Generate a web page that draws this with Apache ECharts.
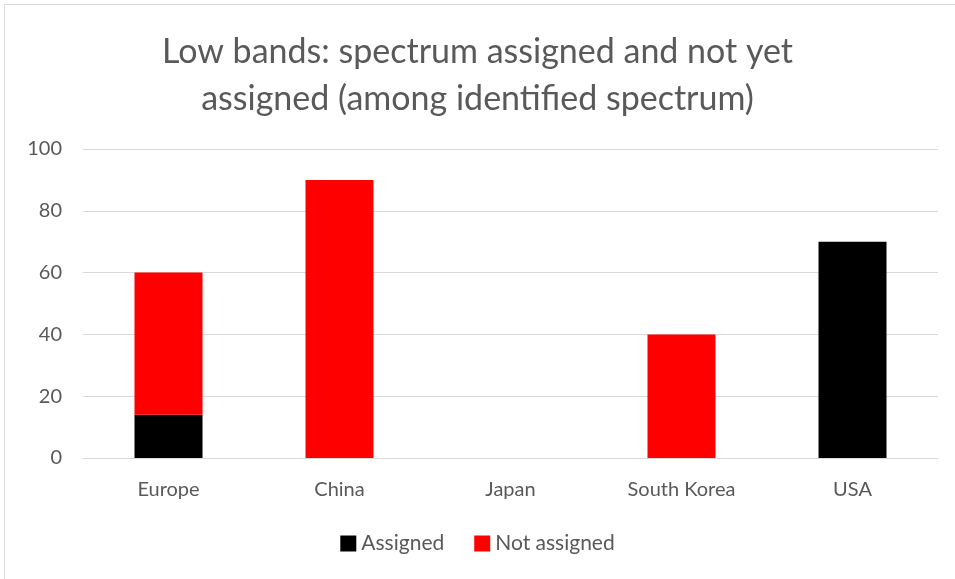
<!DOCTYPE html>
<html><head><meta charset="utf-8">
<script src="https://cdn.jsdelivr.net/npm/echarts@6/dist/echarts.min.js"></script>
<style>html,body{margin:0;padding:0;background:#fff;}#c{width:955px;height:579px;}</style>
</head><body><div id="c"></div>
<script>
const categories = ['Europe', 'China', 'Japan', 'South Korea', 'USA'];
const assigned = [14, 0, 0, 0, 70];
const notAssigned = [46, 90, 0, 40, 0];
const yTicks = [0, 20, 40, 60, 80, 100];

const chart = echarts.init(document.getElementById('c'));
const font = 'Lato, "Open Sans", sans-serif';
chart.setOption({
  animation: false,
  graphic: [{type: 'rect', shape: {x: 4.5, y: 4.5, width: 960, height: 580}, style: {fill: 'none', stroke: '#d9d9d9', lineWidth: 1}}],
  title: {
    text: 'Low bands: spectrum assigned and not yet\nassigned (among identified spectrum)',
    left: 'center', top: 24,
    textStyle: {fontFamily: font, fontWeight: 'normal', fontSize: 34, color: '#595959', lineHeight: 47}
  },
  legend: {
    bottom: 20, left: 'center', itemWidth: 16, itemHeight: 16, itemGap: 30, itemStyle: {borderWidth: 0},
    icon: 'rect',
    textStyle: {fontFamily: font, fontSize: 21, color: '#595959'},
    data: ['Assigned', 'Not assigned']
  },
  grid: {left: 83, right: 17, top: 149, bottom: 121, containLabel: false},
  xAxis: {
    type: 'category', data: categories,
    axisLine: {lineStyle: {color: '#d9d9d9', width: 1}},
    axisTick: {show: false},
    axisLabel: {fontFamily: font, fontSize: 20, color: '#595959', margin: 22}
  },
  yAxis: {
    type: 'value', min: 0, max: 100, interval: 20,
    axisLine: {show: false}, axisTick: {show: false},
    splitLine: {lineStyle: {color: '#d9d9d9', width: 1}},
    axisLabel: {fontFamily: font, fontSize: 20, color: '#595959', margin: 21,
      formatter: v => yTicks.includes(v) ? String(v) : ''}
  },
  series: [
    {name: 'Assigned', type: 'bar', stack: 't', data: assigned, barWidth: 68, itemStyle: {color: '#000000'}},
    {name: 'Not assigned', type: 'bar', stack: 't', data: notAssigned, barWidth: 68, itemStyle: {color: '#ff0000'}}
  ]
});
</script></body></html>
